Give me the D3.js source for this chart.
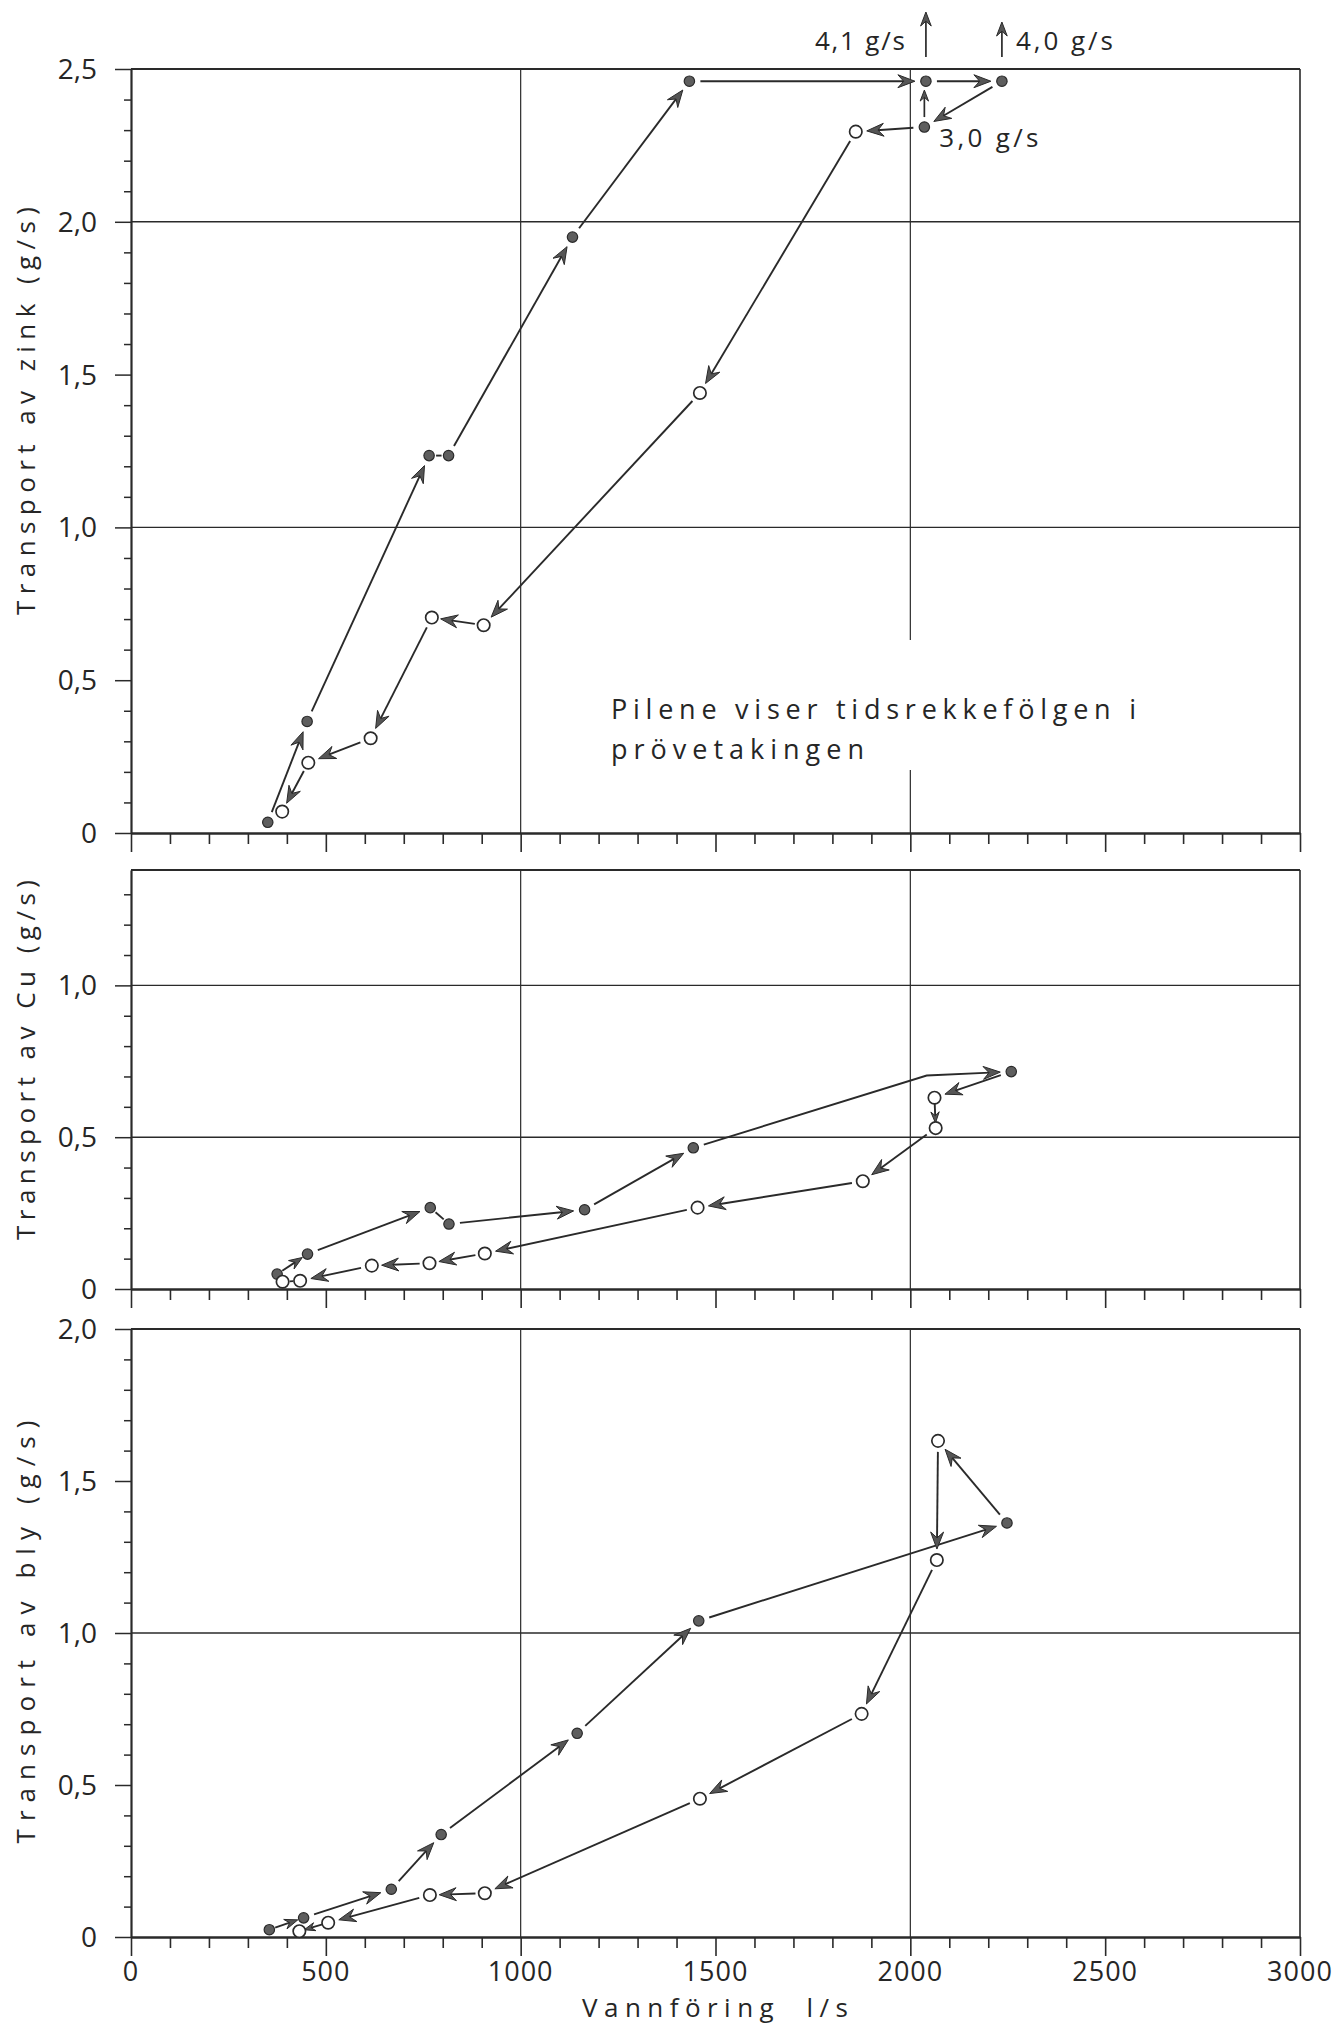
<!DOCTYPE html>
<html><head><meta charset="utf-8">
<script src="https://cdn.jsdelivr.net/npm/d3@7"></script>
<style>
body{margin:0;background:#fff}
svg{display:block}
text{font-family:"Open Sans","DejaVu Sans",sans-serif;fill:#262626}
</style>
</head><body>
<svg id="chart" width="1342" height="2030"></svg>
<script>
// ---------------- DATA ----------------
const xTickValues = [0, 500, 1000, 1500, 2000, 2500, 3000];
const xTickLabels = ["0", "500", "1000", "1500", "2000", "2500", "3000"];
const xTitle = "Vannföring  l/s";

// Zinc: time order, filled = rising limb
const zincFlow      = [351, 452, 765, 815, 1133, 1433, 2040, 2235, 2036, 1860, 1460, 905, 772, 615, 455, 388];
const zincTransport = [0.035, 0.365, 1.235, 1.235, 1.95, 2.46, 2.46, 2.46, 2.31, 2.295, 1.44, 0.68, 0.705, 0.31, 0.23, 0.07];
const zincFilled    = [1, 1, 1, 1, 1, 1, 1, 1, 1, 0, 0, 0, 0, 0, 0, 0];
const zincLinks     = ["arrow", "arrow", "line", "arrow", "arrow", "arrow", "arrow", "arrow", "arrow", "arrow", "arrow", "arrow", "arrow", "arrow", "arrow"];
const zincOffIndex  = [6, 7, 8];
const zincOffLabel  = ["4,1 g/s", "4,0 g/s", "3,0 g/s"];
const zincYTicks    = [0, 0.5, 1.0, 1.5, 2.0, 2.5];
const zincYLabels   = ["0", "0,5", "1,0", "1,5", "2,0", "2,5"];
const zincTitle     = "Transport av zink (g/s)";

// Copper
const cuFlow      = [375, 453, 768, 816, 1164, 1443, 2259, 2062, 2065, 1878, 1454, 908, 766, 618, 434, 389];
const cuTransport = [0.049, 0.115, 0.268, 0.214, 0.261, 0.465, 0.716, 0.630, 0.530, 0.355, 0.268, 0.117, 0.085, 0.077, 0.027, 0.024];
const cuFilled    = [1, 1, 1, 1, 1, 1, 1, 0, 0, 0, 0, 0, 0, 0, 0, 0];
const cuLinks     = ["arrow", "arrow", "line", "arrow", "arrow", "arrow", "arrow", "arrow", "arrow", "arrow", "arrow", "arrow", "arrow", "arrow", "line"];
const cuBendLink  = 5;          // link that has a bend
const cuBendFlow  = 2042;
const cuBendValue = 0.703;
const cuYTicks    = [0, 0.5, 1.0];
const cuYLabels   = ["0", "0,5", "1,0"];
const cuTitle     = "Transport av Cu (g/s)";

// Lead
const blyFlow      = [355, 443, 668, 796, 1145, 1457, 2248, 2071, 2068, 1875, 1460, 908, 767, 506, 432];
const blyTransport = [0.024, 0.063, 0.157, 0.337, 0.67, 1.04, 1.362, 1.632, 1.24, 0.734, 0.455, 0.144, 0.138, 0.047, 0.019];
const blyFilled    = [1, 1, 1, 1, 1, 1, 1, 0, 0, 0, 0, 0, 0, 0, 0];
const blyLinks     = ["arrow", "arrow", "arrow", "arrow", "arrow", "arrow", "arrow", "arrow", "arrow", "arrow", "arrow", "arrow", "arrow", "arrow"];
const blyYTicks    = [0, 0.5, 1.0, 1.5, 2.0];
const blyYLabels   = ["0", "0,5", "1,0", "1,5", "2,0"];
const blyTitle     = "Transport av bly (g/s)";

const noteLines = ["Pilene viser tidsrekkefölgen i", "prövetakingen"];

// ---------------- LAYOUT ----------------
const ink = "#2a2a2a";
const svg = d3.select("#chart");
const x = d3.scaleLinear().domain([0, 3000]).range([131, 1300]);
const xGrid = [1000, 2000];

const panels = [
  {flow: zincFlow, val: zincTransport, filled: zincFilled, links: zincLinks,
   yMax: 2.5, top: 69, bottom: 833, yTicks: zincYTicks, yLabels: zincYLabels,
   hGrid: [1.0, 2.0], title: zincTitle, titleC: 411, titleLen: 408,
   vGap: {value: 2000, from: 640, to: 770}},
  {flow: cuFlow, val: cuTransport, filled: cuFilled, links: cuLinks,
   yMax: 1.38, top: 870, bottom: 1289, yTicks: cuYTicks, yLabels: cuYLabels,
   hGrid: [0.5, 1.0], title: cuTitle, titleC: 1060, titleLen: 360,
   bend: {link: cuBendLink, flow: cuBendFlow, value: cuBendValue}},
  {flow: blyFlow, val: blyTransport, filled: blyFilled, links: blyLinks,
   yMax: 2.0, top: 1329, bottom: 1937, yTicks: blyYTicks, yLabels: blyYLabels,
   hGrid: [1.0], title: blyTitle, titleC: 1632, titleLen: 423, xLabels: true}
];

function arrowHead(g, tip, ang, h) {
  const w = h * 0.38;
  const p = [[0, 0], [-h, -w], [-h * 0.66, 0], [-h, w]].map(([a, b]) => [
    tip[0] + a * Math.cos(ang) - b * Math.sin(ang),
    tip[1] + a * Math.sin(ang) + b * Math.cos(ang)]);
  g.append("path").attr("d", "M" + p.map(q => q.join(",")).join("L") + "Z")
    .attr("fill", "#555").attr("stroke", ink).attr("stroke-width", 1)
    .attr("stroke-linejoin", "miter");
}

function drawLink(g, pts, kind) {
  const a = pts[0], b = pts[1];
  const c = pts[pts.length - 2], d = pts[pts.length - 1];
  const L1 = Math.hypot(b[0] - a[0], b[1] - a[1]);
  const L2 = Math.hypot(d[0] - c[0], d[1] - c[1]);
  const Ltot = pts.length > 2 ? L1 + L2 : L1;
  let gs, ge;
  if (kind === "line") { gs = 7; ge = 7; }
  else { gs = Math.min(11, Ltot * 0.17); ge = Math.min(11, Ltot * 0.17); }
  const u1 = [(b[0] - a[0]) / L1, (b[1] - a[1]) / L1];
  const u2 = [(d[0] - c[0]) / L2, (d[1] - c[1]) / L2];
  const start = [a[0] + u1[0] * gs, a[1] + u1[1] * gs];
  const tip = [d[0] - u2[0] * ge, d[1] - u2[1] * ge];
  let h = 0;
  if (kind === "arrow") h = Math.min(17, (Ltot - gs - ge) * 0.55);
  const lineEnd = [tip[0] - u2[0] * h * 0.6, tip[1] - u2[1] * h * 0.6];
  const path = [start].concat(pts.slice(1, -1)).concat([lineEnd]);
  g.append("path").attr("d", d3.line()(path)).attr("fill", "none")
    .attr("stroke", ink).attr("stroke-width", 1.9);
  if (kind === "arrow") arrowHead(g, tip, Math.atan2(u2[1], u2[0]), h);
}

panels.forEach((P, pi) => {
  const y = d3.scaleLinear().domain([0, P.yMax]).range([P.bottom, P.top]);
  const g = svg.append("g");

  // grid lines
  xGrid.forEach(v => {
    if (P.vGap && P.vGap.value === v) {
      g.append("line").attr("x1", x(v)).attr("x2", x(v)).attr("y1", y(P.yMax)).attr("y2", P.vGap.from)
        .attr("stroke", ink).attr("stroke-width", 1.2);
      g.append("line").attr("x1", x(v)).attr("x2", x(v)).attr("y1", P.vGap.to).attr("y2", y(0))
        .attr("stroke", ink).attr("stroke-width", 1.2);
    } else {
      g.append("line").attr("x1", x(v)).attr("x2", x(v)).attr("y1", y(P.yMax)).attr("y2", y(0))
        .attr("stroke", ink).attr("stroke-width", 1.2);
    }
  });
  P.hGrid.forEach(v => {
    g.append("line").attr("x1", x(0)).attr("x2", x(3000)).attr("y1", y(v)).attr("y2", y(v))
      .attr("stroke", ink).attr("stroke-width", 1.4);
  });
  // frame: top & right
  g.append("line").attr("x1", x(0)).attr("x2", x(3000)).attr("y1", y(P.yMax)).attr("y2", y(P.yMax))
    .attr("stroke", ink).attr("stroke-width", 1.8);
  g.append("line").attr("x1", x(3000)).attr("x2", x(3000)).attr("y1", y(P.yMax)).attr("y2", y(0))
    .attr("stroke", ink).attr("stroke-width", 1.6);

  // x axis
  const xAxis = d3.axisBottom(x).tickValues(d3.range(0, 3001, 100)).tickSize(11)
    .tickSizeOuter(0).tickFormat("");
  const ax = g.append("g").attr("transform", `translate(0,${P.bottom})`).call(xAxis);
  ax.selectAll(".tick").filter(d => d % 500 === 0).select("line").attr("y2", 19);
  ax.selectAll(".tick line").attr("stroke", ink).attr("stroke-width", 1.6);
  ax.select(".domain").attr("stroke", ink).attr("stroke-width", 2.4);

  // y axis
  const nMinor = Math.floor(P.yMax * 10 + 1e-6);
  const yAxis = d3.axisLeft(y).tickValues(d3.range(0, nMinor + 1).map(i => i / 10)).tickSize(7)
    .tickSizeOuter(0).tickFormat("");
  const ay = g.append("g").attr("transform", `translate(${x(0)},0)`).call(yAxis);
  ay.selectAll(".tick").filter(d => Math.abs(d * 2 - Math.round(d * 2)) < 1e-6).select("line").attr("x2", -16);
  ay.selectAll(".tick line").attr("stroke", ink).attr("stroke-width", 1.5);
  ay.select(".domain").attr("stroke", ink).attr("stroke-width", 2.2);

  // y tick labels
  g.selectAll(".yl").data(P.yTicks).join("text")
    .attr("x", 97).attr("y", d => y(d)).attr("dy", "0.36em")
    .attr("text-anchor", "end").attr("font-size", 28).text((d, i) => P.yLabels[i]);

  // y title
  g.append("text").attr("transform", `translate(35,${P.titleC}) rotate(-90)`)
    .attr("text-anchor", "middle").attr("font-size", 26)
    .attr("textLength", P.titleLen).attr("lengthAdjust", "spacing").text(P.title);

  // x labels
  if (P.xLabels) {
    g.selectAll(".xl").data(xTickValues).join("text")
      .attr("x", d => x(d)).attr("y", 1981).attr("text-anchor", "middle")
      .attr("font-size", 27).attr("letter-spacing", 1).text((d, i) => xTickLabels[i]);
    g.append("text").attr("x", 715).attr("y", 2017).attr("text-anchor", "middle")
      .attr("font-size", 26).attr("textLength", 266).attr("lengthAdjust", "spacing")
      .attr("xml:space", "preserve").style("white-space", "pre").text(xTitle);
  }

  // links
  const pts = P.flow.map((f, i) => [x(f), y(P.val[i])]);
  const lg = g.append("g");
  P.links.forEach((kind, i) => {
    let path = [pts[i], pts[i + 1]];
    if (P.bend && P.bend.link === i) path = [pts[i], [x(P.bend.flow), y(P.bend.value)], pts[i + 1]];
    drawLink(lg, path, kind);
  });

  // points
  g.selectAll(".pt").data(pts).join("circle")
    .attr("cx", d => d[0]).attr("cy", d => d[1])
    .attr("r", (d, i) => P.filled[i] ? 5.2 : 6.2)
    .attr("fill", (d, i) => P.filled[i] ? "#5e5e5e" : "#fff")
    .attr("stroke", ink).attr("stroke-width", (d, i) => P.filled[i] ? 1.2 : 1.7);

  // zinc off-scale annotations
  if (pi === 0) {
    const lay = [
      {from: 57, to: 12, anchor: "end", dx: -21, ty: 50, len: 90},
      {from: 57, to: 22, anchor: "start", dx: 14, ty: 50, len: 97},
      {from: null, to: null, anchor: "start", dx: 15, ty: 147, len: 99}
    ];
    zincOffIndex.forEach((idx, k) => {
      const px = x(zincFlow[idx]), py = y(zincTransport[idx]);
      const L = lay[k];
      const f = L.from === null ? py - 10 : L.from;
      const t = L.to === null ? py - 37 : L.to;
      const h = L.to === null ? 11 : 14;
      g.append("line").attr("x1", px).attr("x2", px).attr("y1", f).attr("y2", t + h * 0.6)
        .attr("stroke", ink).attr("stroke-width", 1.7);
      arrowHead(g, [px, t], -Math.PI / 2, h);
      g.append("text").attr("x", px + L.dx).attr("y", L.ty).attr("text-anchor", L.anchor)
        .attr("font-size", 26).attr("textLength", L.len).attr("lengthAdjust", "spacing")
        .text(zincOffLabel[k]);
    });
    // note
    g.append("text").attr("x", 611).attr("y", 719).attr("font-size", 27)
      .attr("textLength", 525).attr("lengthAdjust", "spacing").text(noteLines[0]);
    g.append("text").attr("x", 611).attr("y", 759).attr("font-size", 27)
      .attr("textLength", 253).attr("lengthAdjust", "spacing").text(noteLines[1]);
  }
});
</script>
</body></html>
